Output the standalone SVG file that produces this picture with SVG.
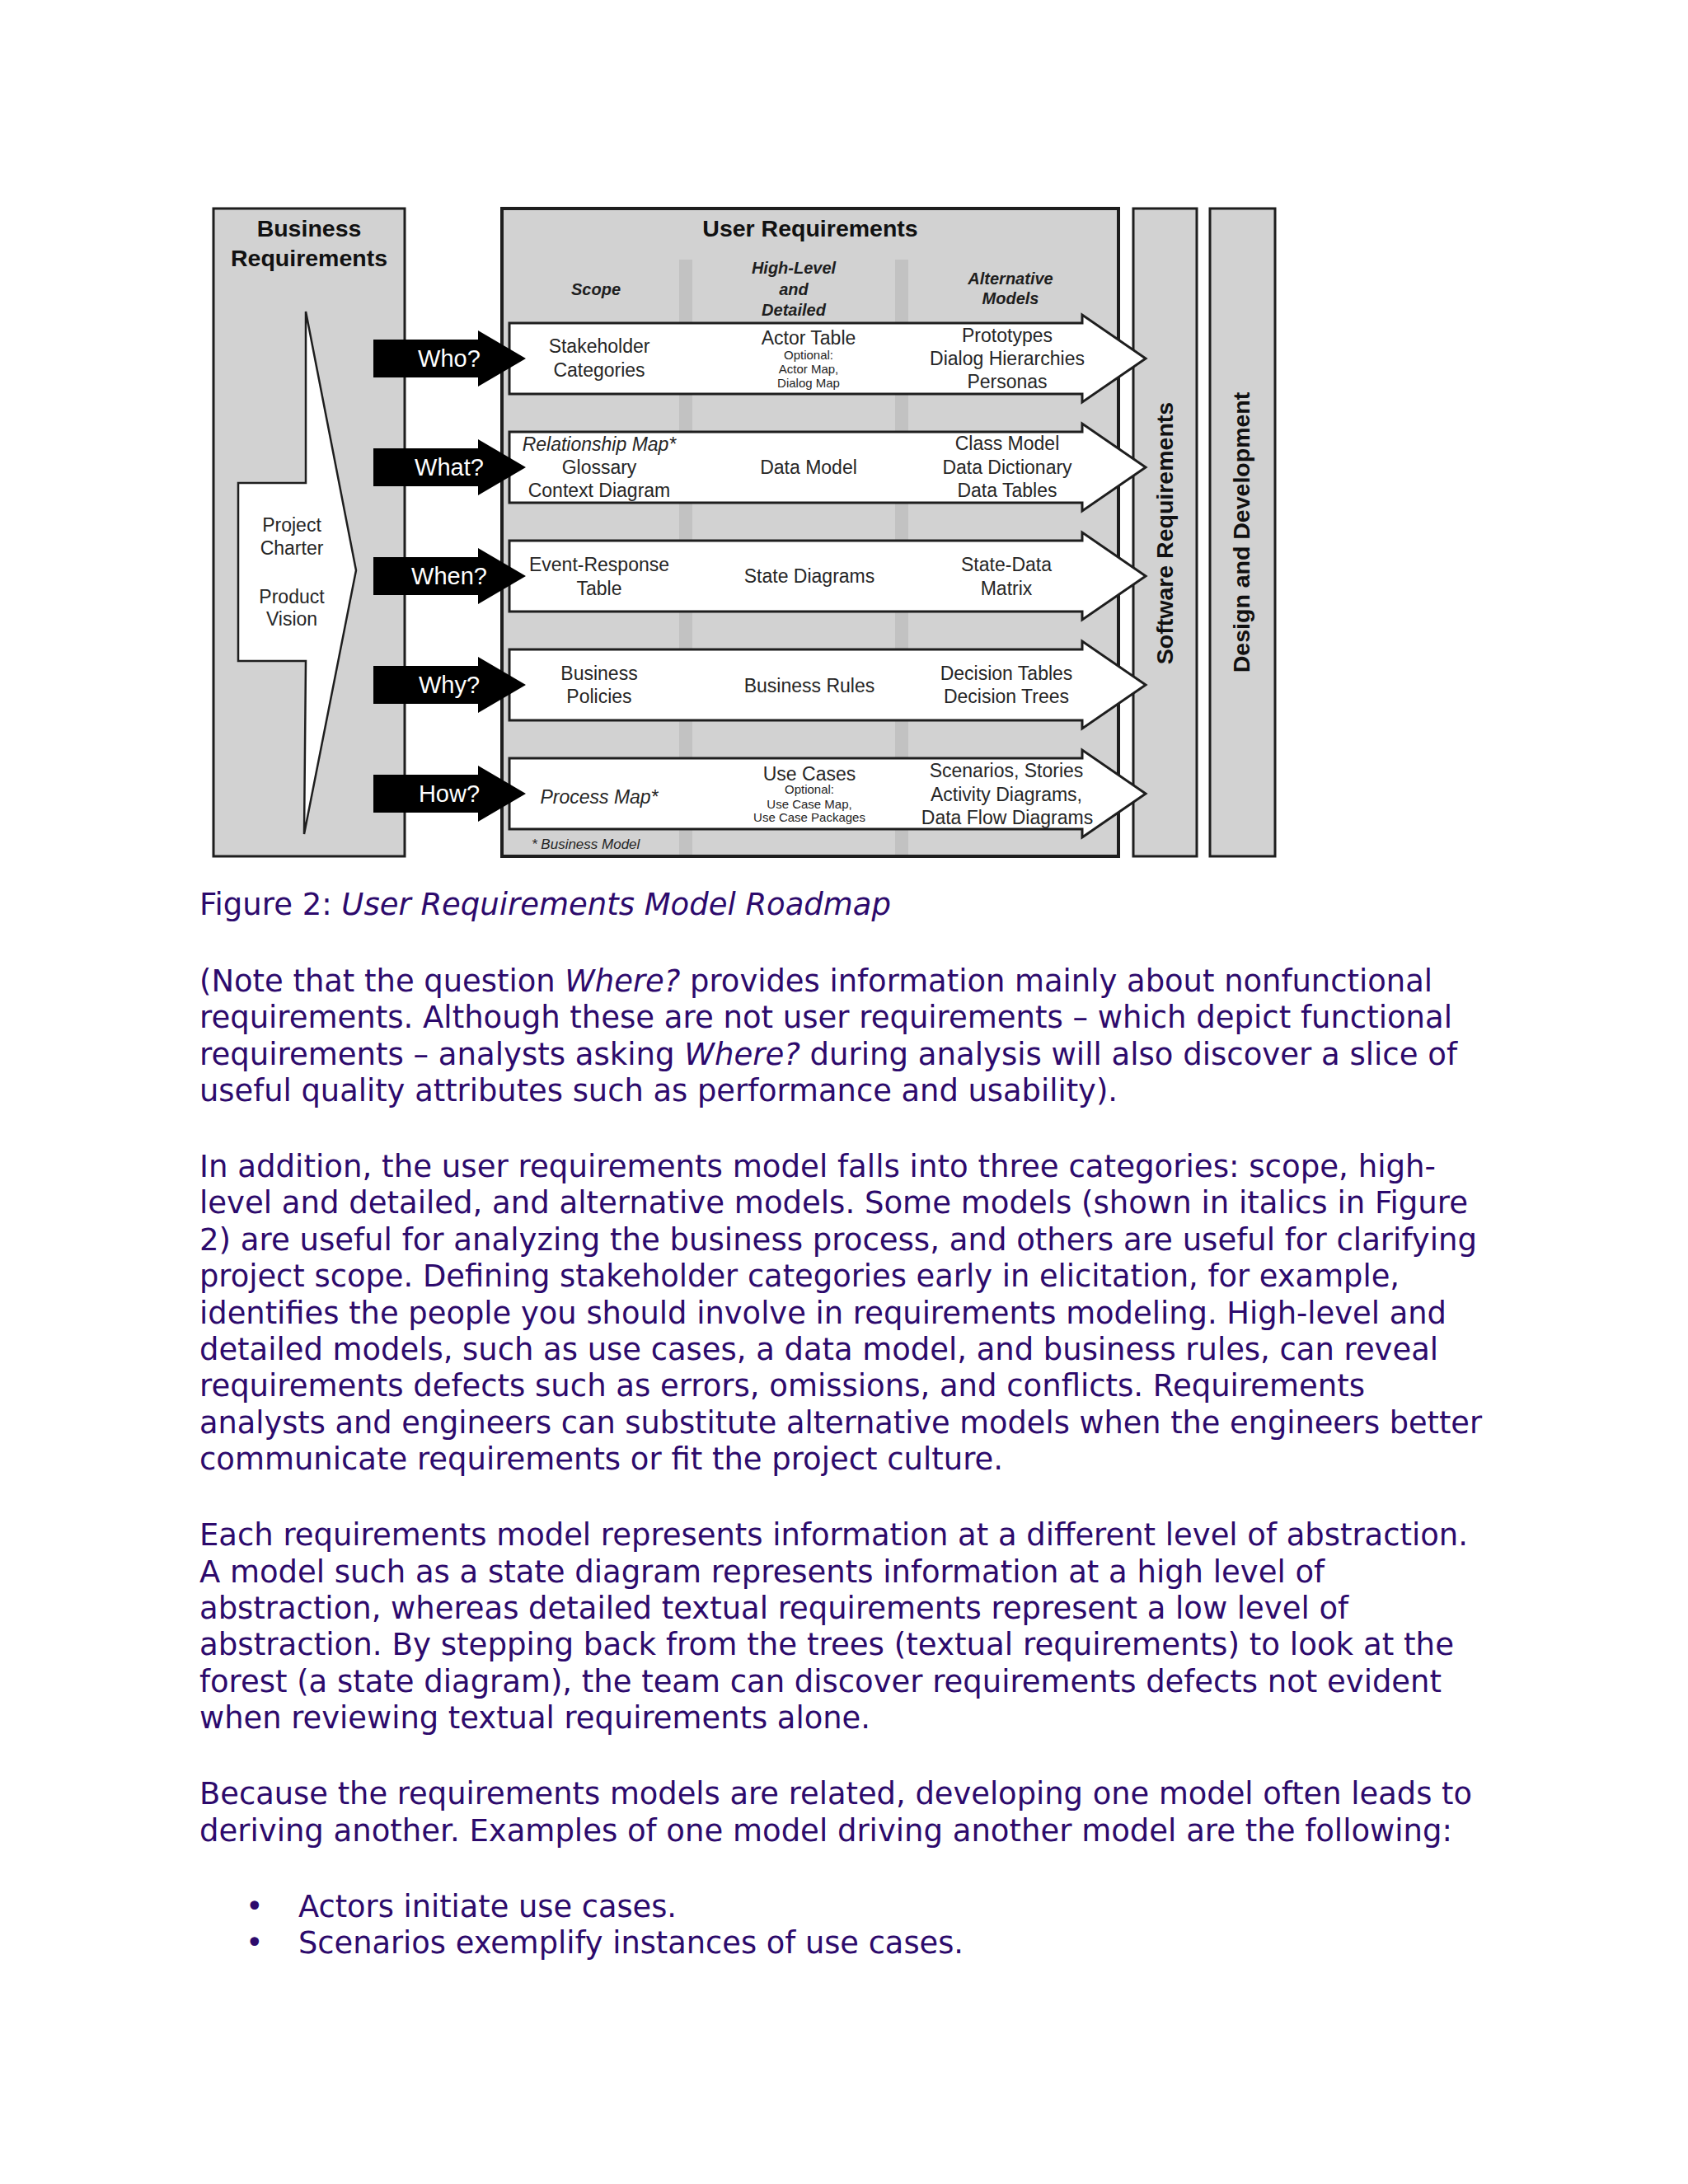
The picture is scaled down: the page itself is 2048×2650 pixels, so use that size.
<svg xmlns="http://www.w3.org/2000/svg" width="2048" height="2650" viewBox="0 0 2048 2650">
<style>
.box{fill:#d2d2d2;stroke:#1e1e1e;stroke-width:3}
.stripe{fill:#c2c2c2}
.row{fill:#fff;stroke:#1e1e1e;stroke-width:3}
.ptr{fill:#fff;stroke:#1e1e1e;stroke-width:2.5}
.q{fill:#000}
.qt{font-family:"Liberation Sans",Arial,sans-serif;font-size:29px;fill:#fff;text-anchor:middle}
.t{font-family:"Liberation Sans",Arial,sans-serif;font-size:23px;fill:#262626;text-anchor:middle}
.s{font-size:15px}
.it{font-style:italic}
.h{font-family:"Liberation Sans",Arial,sans-serif;font-size:20px;font-weight:bold;font-style:italic;fill:#1e1e1e;text-anchor:middle}
.ti{font-family:"Liberation Sans",Arial,sans-serif;font-size:28.5px;font-weight:bold;fill:#111;text-anchor:middle}
.fn{font-family:"Liberation Sans",Arial,sans-serif;font-size:17px;font-style:italic;fill:#262626}
.body{font-family:"DejaVu Sans",Verdana,sans-serif;font-size:36.5px;fill:#2d0a6c}
.i{font-style:italic}
</style>
<rect width="2048" height="2650" fill="#fff"/>

<g id="business-requirements">
  <rect class="box" x="259" y="253" width="232" height="786"/>
  <text class="ti" x="375" y="287">Business</text>
  <text class="ti" x="375" y="323">Requirements</text>
  <polygon class="ptr" points="371,378 432,692 369,1012 371,802 289,802 289,586 371,586"/>
  <text class="t" x="354" y="645">Project</text>
  <text class="t" x="354" y="673">Charter</text>
  <text class="t" x="354" y="732">Product</text>
  <text class="t" x="354" y="759">Vision</text>
</g>

<g id="user-requirements">
  <rect class="box" x="609" y="253" width="748" height="786" style="stroke-width:4"/>
  <rect class="stripe" x="824" y="315" width="16" height="722"/>
  <rect class="stripe" x="1086" y="315" width="16" height="722"/>
  <text class="ti" x="983" y="287">User Requirements</text>
  <text class="h" x="723" y="358">Scope</text>
  <text class="h" x="963" y="332">High-Level</text>
  <text class="h" x="963" y="358">and</text>
  <text class="h" x="963" y="383">Detailed</text>
  <text class="h" x="1226" y="345">Alternative</text>
  <text class="h" x="1226" y="369">Models</text>
  <text class="fn" x="645" y="1030">* Business Model</text>
</g>

<g id="software-requirements">
  <rect class="box" x="1375" y="253" width="77" height="786"/>
  <text class="ti" transform="translate(1423,647) rotate(-90)">Software Requirements</text>
</g>

<g id="design-development">
  <rect class="box" x="1468" y="253" width="79" height="786"/>
  <text class="ti" transform="translate(1516,646) rotate(-90)">Design and Development</text>
</g>

<g id="row-who">
  <polygon class="row" points="618,392 1313,392 1313,382 1390,435 1313,488 1313,478 618,478"/>
  <text class="t" x="727" y="428">Stakeholder</text>
  <text class="t" x="727" y="457">Categories</text>
  <text class="t" x="981" y="418">Actor Table</text>
  <text class="t s" x="981" y="436">Optional:</text>
  <text class="t s" x="981" y="453">Actor Map,</text>
  <text class="t s" x="981" y="470">Dialog Map</text>
  <text class="t" x="1222" y="415">Prototypes</text>
  <text class="t" x="1222" y="443">Dialog Hierarchies</text>
  <text class="t" x="1222" y="471">Personas</text>
</g>

<g id="row-what">
  <polygon class="row" points="618,524 1313,524 1313,514 1390,567 1313,620 1313,610 618,610"/>
  <text class="t it" x="727" y="547">Relationship Map*</text>
  <text class="t" x="727" y="575">Glossary</text>
  <text class="t" x="727" y="603">Context Diagram</text>
  <text class="t" x="981" y="575">Data Model</text>
  <text class="t" x="1222" y="546">Class Model</text>
  <text class="t" x="1222" y="575">Data Dictionary</text>
  <text class="t" x="1222" y="603">Data Tables</text>
</g>

<g id="row-when">
  <polygon class="row" points="618,656 1313,656 1313,646 1390,699 1313,752 1313,742 618,742"/>
  <text class="t" x="727" y="693">Event-Response</text>
  <text class="t" x="727" y="722">Table</text>
  <text class="t" x="982" y="707">State Diagrams</text>
  <text class="t" x="1221" y="693">State-Data</text>
  <text class="t" x="1221" y="722">Matrix</text>
</g>

<g id="row-why">
  <polygon class="row" points="618,788 1313,788 1313,778 1390,831 1313,884 1313,874 618,874"/>
  <text class="t" x="727" y="825">Business</text>
  <text class="t" x="727" y="853">Policies</text>
  <text class="t" x="982" y="840">Business Rules</text>
  <text class="t" x="1221" y="825">Decision Tables</text>
  <text class="t" x="1221" y="853">Decision Trees</text>
</g>

<g id="row-how">
  <polygon class="row" points="618,920 1313,920 1313,910 1390,963 1313,1016 1313,1006 618,1006"/>
  <text class="t it" x="727" y="975">Process Map*</text>
  <text class="t" x="982" y="947">Use Cases</text>
  <text class="t s" x="982" y="963">Optional:</text>
  <text class="t s" x="982" y="981">Use Case Map,</text>
  <text class="t s" x="982" y="997">Use Case Packages</text>
  <text class="t" x="1221" y="943">Scenarios, Stories</text>
  <text class="t" x="1221" y="972">Activity Diagrams,</text>
  <text class="t" x="1222" y="1000">Data Flow Diagrams</text>
</g>

<g id="connectors">
  <g id="who">
    <polygon class="q" points="453,412 580,412 580,401 638,435 580,469 580,458 453,458"/>
    <text class="qt" x="545" y="445">Who?</text>
  </g>
  <g id="what">
    <polygon class="q" points="453,544 580,544 580,533 638,567 580,601 580,590 453,590"/>
    <text class="qt" x="545" y="577">What?</text>
  </g>
  <g id="when">
    <polygon class="q" points="453,676 580,676 580,665 638,699 580,733 580,722 453,722"/>
    <text class="qt" x="545" y="709">When?</text>
  </g>
  <g id="why">
    <polygon class="q" points="453,808 580,808 580,797 638,831 580,865 580,854 453,854"/>
    <text class="qt" x="545" y="841">Why?</text>
  </g>
  <g id="how">
    <polygon class="q" points="453,940 580,940 580,929 638,963 580,997 580,986 453,986"/>
    <text class="qt" x="545" y="973">How?</text>
  </g>
</g>

<g id="text-body">
  <text class="body" x="242" y="1110" textLength="839" lengthAdjust="spacingAndGlyphs">Figure 2: <tspan class="i">User Requirements Model Roadmap</tspan></text>

  <text class="body" x="242" y="1203" textLength="1496" lengthAdjust="spacingAndGlyphs">(Note that the question <tspan class="i">Where?</tspan> provides information mainly about nonfunctional</text>
  <text class="body" x="242" y="1247" textLength="1520" lengthAdjust="spacingAndGlyphs">requirements. Although these are not user requirements – which depict functional</text>
  <text class="body" x="242" y="1292" textLength="1526" lengthAdjust="spacingAndGlyphs">requirements – analysts asking <tspan class="i">Where?</tspan> during analysis will also discover a slice of</text>
  <text class="body" x="242" y="1336" textLength="1114" lengthAdjust="spacingAndGlyphs">useful quality attributes such as performance and usability).</text>

  <text class="body" x="242" y="1428" textLength="1500" lengthAdjust="spacingAndGlyphs">In addition, the user requirements model falls into three categories: scope, high-</text>
  <text class="body" x="242" y="1472" textLength="1539" lengthAdjust="spacingAndGlyphs">level and detailed, and alternative models. Some models (shown in italics in Figure</text>
  <text class="body" x="242" y="1517" textLength="1550" lengthAdjust="spacingAndGlyphs">2) are useful for analyzing the business process, and others are useful for clarifying</text>
  <text class="body" x="242" y="1561" textLength="1456" lengthAdjust="spacingAndGlyphs">project scope. Defining stakeholder categories early in elicitation, for example,</text>
  <text class="body" x="242" y="1606" textLength="1513" lengthAdjust="spacingAndGlyphs">identifies the people you should involve in requirements modeling. High-level and</text>
  <text class="body" x="242" y="1650" textLength="1503" lengthAdjust="spacingAndGlyphs">detailed models, such as use cases, a data model, and business rules, can reveal</text>
  <text class="body" x="242" y="1694" textLength="1414" lengthAdjust="spacingAndGlyphs">requirements defects such as errors, omissions, and conflicts. Requirements</text>
  <text class="body" x="242" y="1739" textLength="1556" lengthAdjust="spacingAndGlyphs">analysts and engineers can substitute alternative models when the engineers better</text>
  <text class="body" x="242" y="1783" textLength="975" lengthAdjust="spacingAndGlyphs">communicate requirements or fit the project culture.</text>

  <text class="body" x="242" y="1875" textLength="1539" lengthAdjust="spacingAndGlyphs">Each requirements model represents information at a different level of abstraction.</text>
  <text class="body" x="242" y="1920" textLength="1365" lengthAdjust="spacingAndGlyphs">A model such as a state diagram represents information at a high level of</text>
  <text class="body" x="242" y="1964" textLength="1394" lengthAdjust="spacingAndGlyphs">abstraction, whereas detailed textual requirements represent a low level of</text>
  <text class="body" x="242" y="2008" textLength="1522" lengthAdjust="spacingAndGlyphs">abstraction. By stepping back from the trees (textual requirements) to look at the</text>
  <text class="body" x="242" y="2053" textLength="1507" lengthAdjust="spacingAndGlyphs">forest (a state diagram), the team can discover requirements defects not evident</text>
  <text class="body" x="242" y="2097" textLength="814" lengthAdjust="spacingAndGlyphs">when reviewing textual requirements alone.</text>

  <text class="body" x="242" y="2189" textLength="1544" lengthAdjust="spacingAndGlyphs">Because the requirements models are related, developing one model often leads to</text>
  <text class="body" x="242" y="2234" textLength="1520" lengthAdjust="spacingAndGlyphs">deriving another. Examples of one model driving another model are the following:</text>

  <text class="body" x="298" y="2326">•</text>
  <text class="body" x="362" y="2326" textLength="459" lengthAdjust="spacingAndGlyphs">Actors initiate use cases.</text>
  <text class="body" x="298" y="2370">•</text>
  <text class="body" x="362" y="2370" textLength="807" lengthAdjust="spacingAndGlyphs">Scenarios exemplify instances of use cases.</text>
</g>
</svg>
